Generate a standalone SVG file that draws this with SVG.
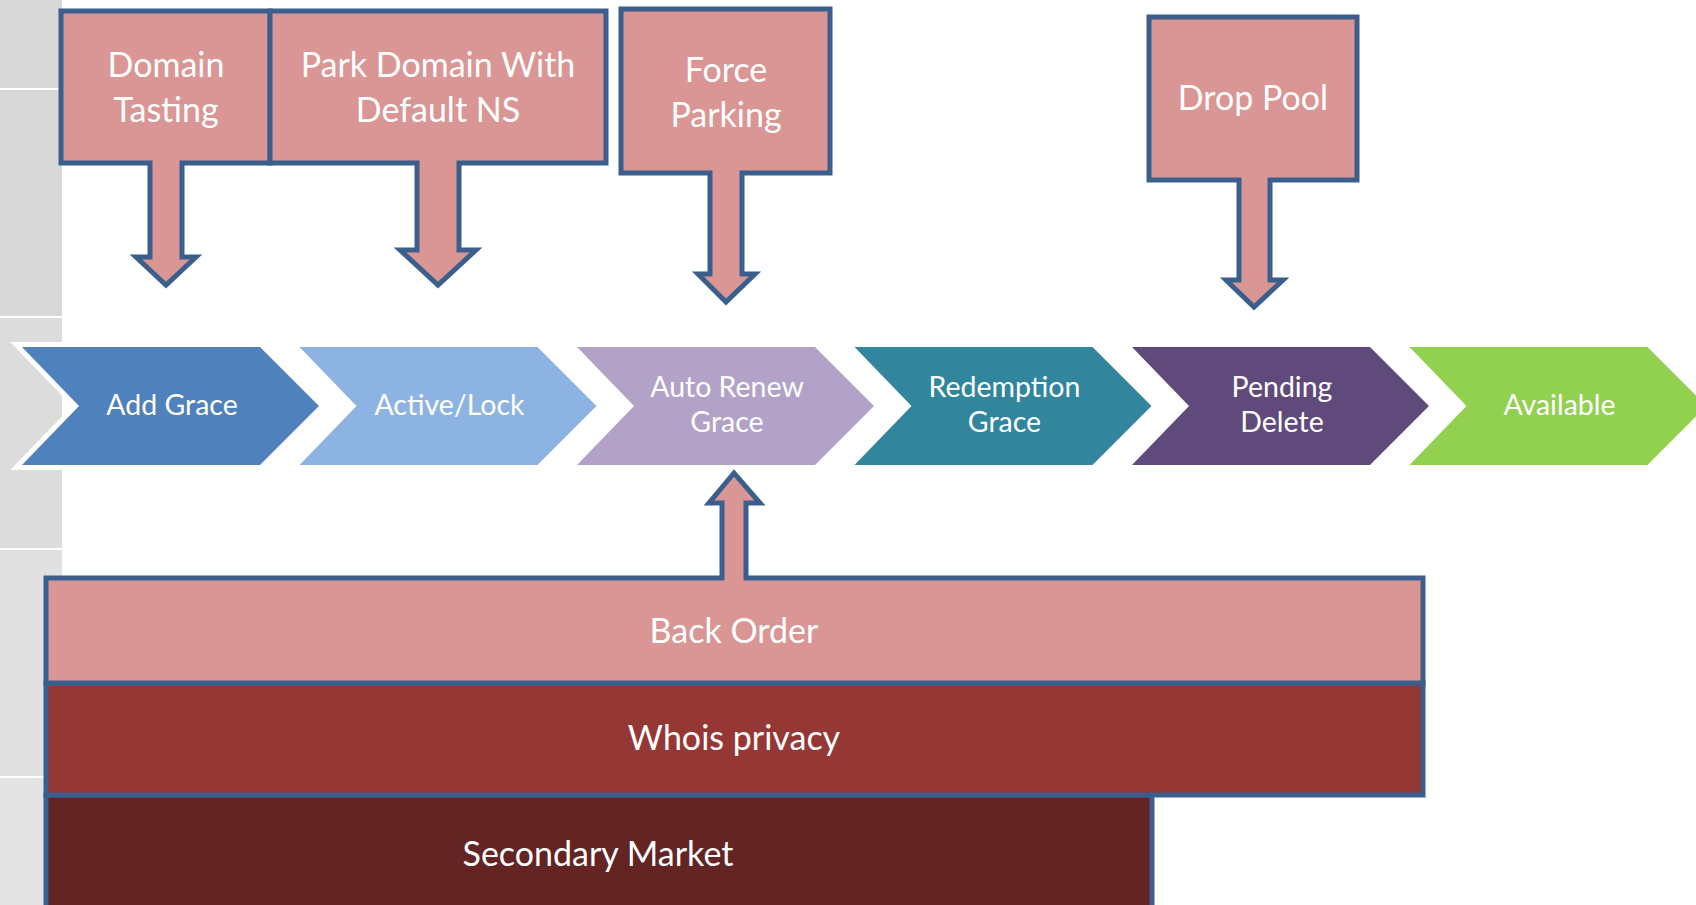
<svg xmlns="http://www.w3.org/2000/svg" width="1696" height="905" viewBox="0 0 1696 905">
<style>
.callout{fill:#D99694;stroke:#3A5F8C;stroke-width:5;stroke-linejoin:miter}
.chev{stroke:#FFFFFF;stroke-width:10;paint-order:stroke;stroke-linejoin:miter}
.t{font-family:Lato,"Open Sans","Liberation Sans",sans-serif;fill:#FFFFFF;text-anchor:middle}
.big{font-size:34px}
.mid{font-size:28.5px}
.bar{stroke:#3A5F8C;stroke-width:5}
</style>
<rect x="0" y="0" width="1696" height="905" fill="#FFFFFF"/>
<g id="background">
<rect x="0" y="0" width="62" height="317" fill="#D8D8D8"/>
<rect x="0" y="317" width="62" height="232" fill="#DCDCDC"/>
<rect x="0" y="549" width="62" height="228" fill="#E0E0E0"/>
<rect x="0" y="777" width="62" height="128" fill="#E4E4E4"/>
<g stroke="#FFFFFF" stroke-width="2">
<line x1="0" y1="89" x2="62" y2="89"/>
<line x1="0" y1="317" x2="62" y2="317"/>
<line x1="0" y1="549" x2="62" y2="549"/>
<line x1="0" y1="777" x2="62" y2="777"/>
</g>
</g>
<g id="chevrons">
<g id="add-grace"><polygon class="chev" fill="#4F81BD" points="22,347 260,347 319,406 260,465 22,465 79,406"/><text class="t mid" x="172" y="415">Add Grace</text></g>
<g id="active-lock"><polygon class="chev" fill="#8DB3E2" points="299.5,347 537.5,347 596.5,406 537.5,465 299.5,465 356.5,406"/><text class="t mid" x="449.5" y="415">Active/Lock</text></g>
<g id="auto-renew"><polygon class="chev" fill="#B2A2C7" points="577,347 815,347 874,406 815,465 577,465 634,406"/><text class="t mid" x="727" y="397">Auto Renew</text><text class="t mid" x="727" y="432">Grace</text></g>
<g id="redemption"><polygon class="chev" fill="#31859C" points="854.5,347 1092.5,347 1151.5,406 1092.5,465 854.5,465 911.5,406"/><text class="t mid" x="1004.5" y="397">Redemption</text><text class="t mid" x="1004.5" y="432">Grace</text></g>
<g id="pending-delete"><polygon class="chev" fill="#604A7B" points="1132,347 1370,347 1429,406 1370,465 1132,465 1189,406"/><text class="t mid" x="1282" y="397">Pending</text><text class="t mid" x="1282" y="432">Delete</text></g>
<g id="available"><polygon class="chev" fill="#92D050" points="1409.5,347 1647.5,347 1706.5,406 1647.5,465 1409.5,465 1466.5,406"/><text class="t mid" x="1559.5" y="415">Available</text></g>
</g>
<g id="connectors"></g>
<g id="domain-tasting"><path class="callout" d="M61,11 H270 V163 H182 V257 H196 L166,285 L136,257 H150 V163 H61 Z"/><text class="t big" x="166" y="77">Domain</text><text class="t big" x="166" y="122">Tasting</text></g>
<g id="park-domain"><path class="callout" d="M270,11 H606 V163 H459 V250 H476 L438,285 L400,250 H417 V163 H270 Z"/><text class="t big" x="438" y="77">Park Domain With</text><text class="t big" x="438" y="122">Default NS</text></g>
<g id="force-parking"><path class="callout" d="M621,9 H830 V173 H742 V274 H755 L726,302 L698,274 H710 V173 H621 Z"/><text class="t big" x="726" y="82">Force</text><text class="t big" x="726" y="127">Parking</text></g>
<g id="drop-pool"><path class="callout" d="M1149,17 H1357 V180 H1270 V280 H1283 L1254,307 L1226,280 H1239 V180 H1149 Z"/><text class="t big" x="1253" y="110">Drop Pool</text></g>
<g id="secondary-market"><rect class="bar" x="46" y="795" width="1106" height="120" fill="#632423"/><text class="t big" x="598" y="866">Secondary Market</text></g>
<g id="whois-privacy"><rect class="bar" x="46" y="683" width="1377" height="112" fill="#953735"/><text class="t big" x="734" y="750">Whois privacy</text></g>
<g id="back-order"><path class="callout" d="M46,578 H722 V503 H709 L734,473 L760,503 H746 V578 H1423 V683 H46 Z"/><text class="t big" x="734" y="643">Back Order</text></g>
</svg>
